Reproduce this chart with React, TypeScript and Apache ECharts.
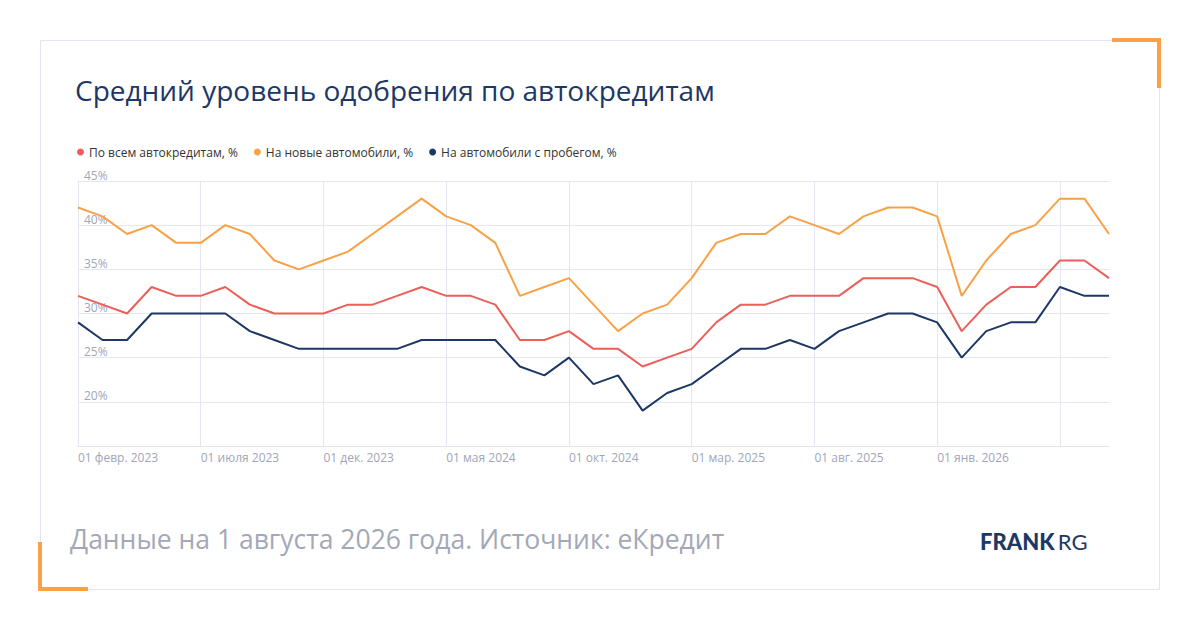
import { useEffect, useRef } from 'react';
import * as echarts from 'echarts';

const months = [
  'янв.', 'февр.', 'мар.', 'апр.', 'мая', 'июня', 'июля', 'авг.', 'сент.', 'окт.', 'нояб.', 'дек.',
];
// Feb 2023 .. Aug 2026
const categories: string[] = [];
for (let y = 2023; y <= 2026; y++) {
  for (let m = 0; m < 12; m++) {
    if ((y === 2023 && m < 1) || (y === 2026 && m > 7)) continue;
    categories.push(`01 ${months[m]} ${y}`);
  }
}

const allLoans = [
  32, 31, 30, 33, 32, 32, 33, 31, 30, 30, 30,
  31, 31, 32, 33, 32, 32, 31, 27, 27, 28, 26, 26,
  24, 25, 26, 29, 31, 31, 32, 32, 32, 34, 34, 34,
  33, 28, 31, 33, 33, 36, 36, 34,
];
const newCars = [
  42, 41, 39, 40, 38, 38, 40, 39, 36, 35, 36,
  37, 39, 41, 43, 41, 40, 38, 32, 33, 34, 31, 28,
  30, 31, 34, 38, 39, 39, 41, 40, 39, 41, 42, 42,
  41, 32, 36, 39, 40, 43, 43, 39,
];
const usedCars = [
  29, 27, 27, 30, 30, 30, 30, 28, 27, 26, 26,
  26, 26, 26, 27, 27, 27, 27, 24, 23, 25, 22, 23,
  19, 21, 22, 24, 26, 26, 27, 26, 28, 29, 30, 30,
  29, 25, 28, 29, 29, 33, 32, 32,
];

const FONT = 'Open Sans, Noto Sans, sans-serif';

export default function App() {
  const ref = useRef<HTMLDivElement>(null);

  useEffect(() => {
    if (!ref.current) return undefined;
    const chart = echarts.init(ref.current, undefined, { renderer: 'svg' });
    const line = (name: string, data: number[], color: string) => ({
      name,
      type: 'line' as const,
      data,
      symbol: 'none',
      lineStyle: { width: 2, color },
      itemStyle: { color },
    });
    chart.setOption({
      animation: false,
      backgroundColor: '#fff',
      textStyle: { fontFamily: FONT },
      title: {
        text: 'Средний уровень одобрения по автокредитам',
        left: 70,
        top: 71,
        textStyle: { fontSize: 28, fontWeight: 'normal', color: '#1d3766', fontFamily: FONT },
      },
      legend: {
        left: 72,
        top: 141,
        icon: 'circle',
        itemWidth: 7,
        itemHeight: 7,
        itemGap: 16,
        textStyle: { fontSize: 12, color: '#333', fontFamily: FONT },
        data: ['По всем автокредитам, %', 'На новые автомобили, %', 'На автомобили с пробегом, %'],
      },
      grid: { left: 78, right: 91, top: 181, bottom: 184 },
      xAxis: {
        type: 'category',
        boundaryGap: false,
        data: categories,
        axisLine: { lineStyle: { color: '#dfe3f0' } },
        axisTick: { show: false },
        axisLabel: {
          interval: 4,
          align: 'left',
          color: '#a0a6b8',
          fontSize: 12,
          margin: 5,
          formatter: (v: string, i: number) => (i === 40 ? '' : v),
        },
        splitLine: { show: true, interval: 4, lineStyle: { color: '#e4e7f2' } },
      },
      yAxis: {
        type: 'value',
        min: 15,
        max: 45,
        interval: 5,
        axisLine: { show: false },
        axisTick: { show: false },
        axisLabel: {
          inside: true,
          verticalAlign: 'bottom',
          margin: 6,
          color: '#a0a6b8',
          fontSize: 12,
          formatter: (v: number) => (v === 15 ? '' : `${v}%`),
        },
        splitLine: { lineStyle: { color: '#e4e7f2' } },
      },
      graphic: [
        { type: 'rect', shape: { x: 40.5, y: 40.5, width: 1119, height: 549 }, style: { fill: 'none', stroke: '#e2e5ee', lineWidth: 1 }, z: -1 },
        { type: 'polyline', shape: { points: [[1112, 40], [1159, 40], [1159, 88]] }, style: { stroke: '#f9a146', lineWidth: 4, fill: 'none' } },
        { type: 'polyline', shape: { points: [[40, 542], [40, 589], [88, 589]] }, style: { stroke: '#f9a146', lineWidth: 4, fill: 'none' } },
        {
          type: 'text', left: 70, top: 525,
          style: { text: 'Данные на 1 августа 2026 года. Источник: еКредит', fontSize: 26.5, fill: '#a3a8b8', fontFamily: FONT },
        },
        {
          type: 'text', left: 980, top: 530,
          style: {
            text: '{b|FRANK} {r|RG}',
            rich: {
              b: { fontSize: 22, fontWeight: 900, fill: '#1d3766', fontFamily: 'Lato, sans-serif' },
              r: { fontSize: 22, fill: '#1d3766', fontFamily: 'Lato, sans-serif' },
            },
          },
        },
      ],
      series: [
        line('По всем автокредитам, %', allLoans, '#ec5f59'),
        line('На новые автомобили, %', newCars, '#f9a146'),
        line('На автомобили с пробегом, %', usedCars, '#1d3766'),
      ],
    });
    return () => chart.dispose();
  }, []);

  return <div ref={ref} style={{ width: 1200, height: 630, margin: -8 }} />;
}
